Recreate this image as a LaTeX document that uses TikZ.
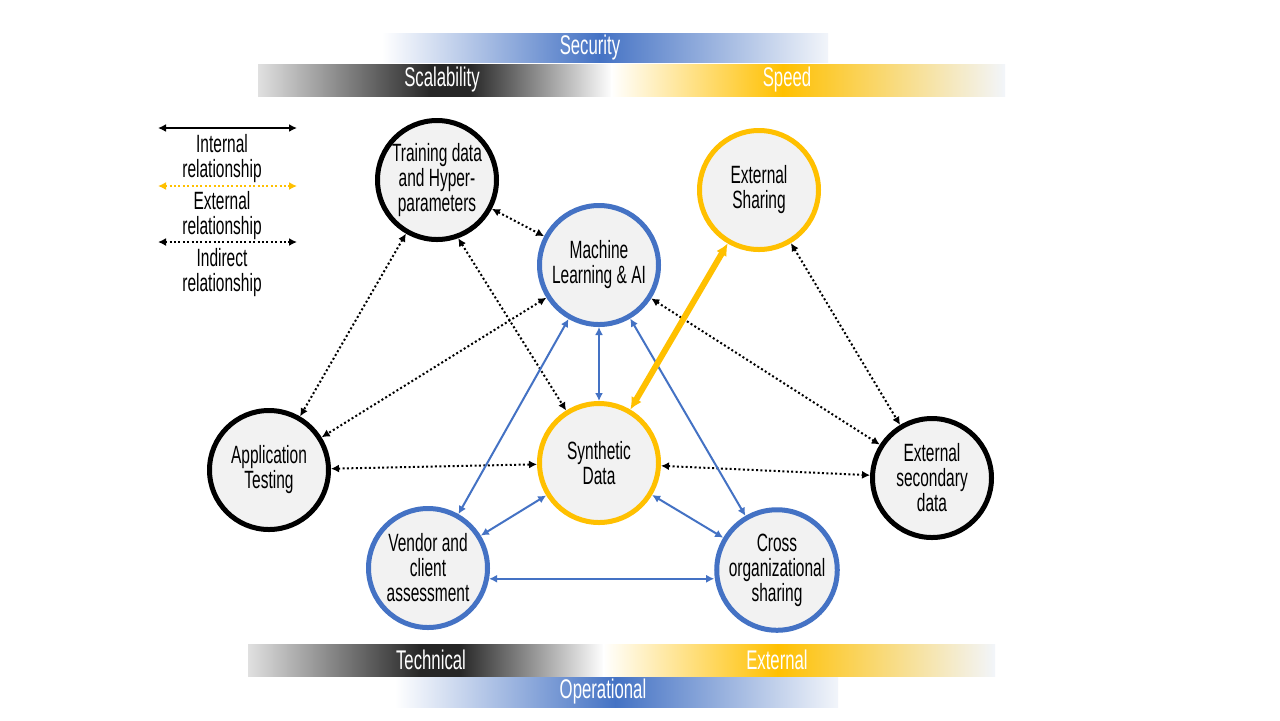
\documentclass[tikz,border=0pt]{standalone}
\usepackage{fontspec}
\setmainfont{Liberation Sans}[FakeStretch=0.62]
\usetikzlibrary{arrows.meta}
\definecolor{blueline}{HTML}{4472C4}
\definecolor{goldline}{HTML}{FFC000}
\definecolor{fillgray}{HTML}{F2F2F2}
\definecolor{fadeblue}{HTML}{F2F5FA}
\tikzset{
  topic/.style={circle,draw=#1,line width=2.5pt,fill=fillgray,minimum size=59.5pt,
    inner sep=0pt,align=center,font=\fontsize{12.5}{12.5}\selectfont},
  internal/.style={blueline,line width=1pt,{Latex[length=4pt,width=4pt]}-{Latex[length=4pt,width=4pt]}},
  indirect/.style={black,line width=1pt,dash pattern=on 1pt off 1.2pt,
    {Latex[length=4pt,width=4pt]}-{Latex[length=4pt,width=4pt]}},
  external/.style={goldline,line width=3pt,{Latex[length=6pt,width=6pt]}-{Latex[length=6pt,width=6pt]}},
  keytext/.style={align=center,font=\fontsize{12.5}{12.5}\selectfont},
  bartext/.style={white,font=\fontsize{13.5}{13.5}\selectfont}
}
\begin{document}
\begin{tikzpicture}[x=0.5pt,y=-0.5pt]
        \fill[white] (0,0) rectangle (1280,720);
        \useasboundingbox (0,0) rectangle (1280,720);

        % bars on top
        \shade[left color=white,right color=blueline] (382,33) rectangle (600,62);
        \shade[left color=blueline,right color=fadeblue] (599,33) rectangle (828,62);
        \shade[left color=black!12,right color=black!85] (258,64) rectangle (431,96);
        \shade[left color=black!85,right color=black!85] (430,64) rectangle (470,96);
        \shade[left color=black!85,right color=white] (469,64) rectangle (612,96);
        \shade[left color=white,right color=goldline] (611,64) rectangle (783,96);
        \shade[left color=goldline,right color=fadeblue] (782,64) rectangle (1005,96);
        \node[bartext] (sec) at (590,48) {Security};
        \node[bartext] (sca) at (442,80) {Scalability};
        \node[bartext] (spe) at (787,80) {Speed};

        % bars at the bottom
        \shade[left color=black!12,right color=black!85] (248,644) rectangle (421,676);
        \shade[left color=black!85,right color=black!85] (420,644) rectangle (460,676);
        \shade[left color=black!85,right color=white] (459,644) rectangle (604,676);
        \shade[left color=white,right color=goldline] (603,644) rectangle (778,676);
        \shade[left color=goldline,right color=fadeblue] (777,644) rectangle (995,676);
        \shade[left color=white,right color=blueline] (395,677) rectangle (616,707);
        \shade[left color=blueline,right color=fadeblue] (615,677) rectangle (838,707);
        \node[bartext] (tec) at (431,660) {Technical};
        \node[bartext] (ext) at (777,660) {External};
        \node[bartext] (ope) at (603,692) {Operational};

        % key
        \coordinate (K1a) at (158,128);
        \coordinate (K1b) at (297,128);
        \coordinate (K2a) at (158,186);
        \coordinate (K2b) at (297,186);
        \coordinate (K3a) at (158,242);
        \coordinate (K3b) at (297,242);
        \draw[black,line width=1pt,{Latex[length=4pt,width=4pt]}-{Latex[length=4pt,width=4pt]}] (K1a) -- (K1b);
        \draw[goldline,line width=1pt,dash pattern=on 1pt off 1.2pt,{Latex[length=4pt,width=4pt]}-{Latex[length=4pt,width=4pt]}] (K2a) -- (K2b);
        \draw[indirect] (K3a) -- (K3b);
        \node[keytext] (L1) at (222,159) {Internal\\relationship};
        \node[keytext] (L2) at (222,216) {External\\relationship};
        \node[keytext] (L3) at (222,273) {Indirect\\relationship};

        % topics
        \node[topic=black] (TD) at (437,180) {Training data\\and Hyper-\\parameters};
        \node[topic=blueline] (ML) at (599,265) {Machine\\Learning \& AI};
        \node[topic=goldline] (ES) at (759,190) {External\\Sharing};
        \node[topic=black] (AT) at (269,470) {Application\\Testing};
        \node[topic=goldline] (SD) at (599,463) {Synthetic\\Data};
        \node[topic=black] (EX) at (932,478) {External\\secondary\\data};
        \node[topic=blueline] (VC) at (428,568) {Vendor and\\client\\assessment};
        \node[topic=blueline] (CO) at (777,570) {Cross\\organizational\\sharing};

        \draw[indirect] (TD) -- (ML);
        \draw[indirect] (TD) -- (AT);
        \draw[indirect] (TD.-70) -- (SD);
        \draw[indirect] (ML) -- (AT);
        \draw[indirect] (ML) -- (EX);
        \draw[indirect] (ES) -- (EX);
        \draw[indirect] (AT) -- (SD);
        \draw[indirect] (SD) -- (EX);
        \draw[internal] (ML) -- (SD);
        \draw[internal] (ML) -- (VC);
        \draw[internal] (ML) -- (CO);
        \draw[internal] (SD) -- (VC);
        \draw[internal] (SD) -- (CO);
        \draw[internal] (VC.-10) -- (VC.-10 -| CO.west);
        \draw[external] (SD) -- (ES);
      \end{tikzpicture}
\end{document}
